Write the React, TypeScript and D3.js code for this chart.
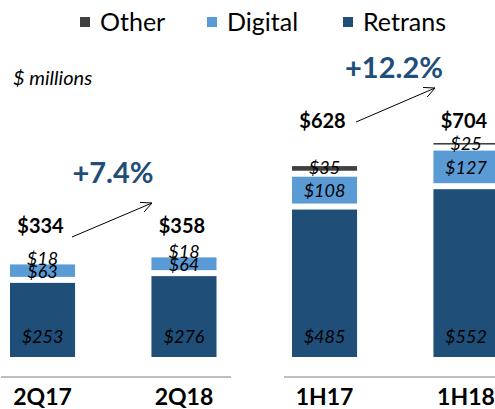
import React from 'react';
import * as d3 from 'd3';

// values in $ millions
const quarterCats = ['2Q17', '2Q18'];
const halfCats = ['1H17', '1H18'];
const retrans = [253, 276, 485, 552];
const digital = [63, 64, 108, 127];
const other = [18, 18, 35, 25];
const totals = [334, 358, 628, 704];
const growth = ['+7.4%', '+12.2%'];

const seriesNames = ['Retrans', 'Digital', 'Other'];
const seriesColors = ['#1f4e79', '#5b9bd5', '#404040'];
const legendOrder = ['Other', 'Digital', 'Retrans'];

const W = 495;
const H = 409;
const FONT = 'Lato, "Open Sans", sans-serif';
const BASE = 357;
const GAP = 6;

type Panel = {
  cats: string[];
  offset: number;
  range: [number, number];
  yMax: number;
  yTop: number;
  totalY: number;
  pct: { x: number; y: number };
  arrow: [number, number, number, number];
  axis: [number, number];
};

const panels: Panel[] = [
  {
    cats: quarterCats, offset: 0, range: [10, 216.5], yMax: 400, yTop: BASE - 0.293 * 400,
    totalY: 233, pct: { x: 113, y: 183 }, arrow: [72, 237, 152, 203], axis: [1, 231],
  },
  {
    cats: halfCats, offset: 2, range: [292, 498.5], yMax: 800, yTop: BASE - 0.304 * 800,
    totalY: 128, pct: { x: 394, y: 78 }, arrow: [356, 122, 435, 88], axis: [284, 495],
  },
];

const PanelView = ({ p, idx }: { p: Panel; idx: number }) => {
  const x = d3.scaleBand().domain(p.cats).range(p.range).paddingInner(0.54).paddingOuter(0);
  const y = d3.scaleLinear().domain([0, p.yMax]).range([BASE, p.yTop]);
  const bw = x.bandwidth();

  const [ax1, ay1, ax2, ay2] = p.arrow;
  const ang = Math.atan2(ay2 - ay1, ax2 - ax1);
  const hl = 12;
  const head = [ang - 0.45, ang + 0.45].map(a => [ax2 - hl * Math.cos(a), ay2 - hl * Math.sin(a)]);

  return (
    <g>
      <line x1={p.axis[0]} x2={p.axis[1]} y1={377} y2={377} stroke="#bfbfbf" strokeWidth={2} />
      {p.cats.map((c, ci) => {
        const i = p.offset + ci;
        const vals = [retrans[i], digital[i], other[i]];
        const cx = (x(c) as number) + bw / 2;
        let cum = 0;
        const segs = vals.map((v, si) => {
          const y0 = cum;
          const y1 = cum + v;
          cum = y1;
          const top = y(y1);
          const bottom = y(y0) - (si > 0 ? GAP : 0);
          return { v, si, top, bottom, nTop: y(y1), nBottom: y(y0) };
        });
        return (
          <g key={c}>
            {segs.map(s => (
              <rect key={s.si} x={x(c)} width={bw} y={s.top}
                height={Math.max(0, s.bottom - s.top)} fill={seriesColors[s.si]} />
            ))}
            {segs.map(s => {
              let ty;
              if (s.si === 0) ty = BASE - 14;
              else if (s.si === 1) ty = (s.top + s.bottom) / 2 + 7;
              else ty = (s.nTop + s.nBottom) / 2 + 3;
              return (
                <text key={'l' + s.si} x={cx} y={ty} textAnchor="middle" fontStyle="italic"
                  fontSize={18} fill="#000">{'$' + s.v}</text>
              );
            })}
            <text x={cx - 2} y={p.totalY} textAnchor="middle" fontWeight="bold" fontSize={20}
              fill="#000">{'$' + totals[i]}</text>
            <text x={cx} y={405} textAnchor="middle" fontWeight="bold" fontSize={23}
              fill="#000">{c}</text>
          </g>
        );
      })}
      <line x1={ax1} y1={ay1} x2={ax2} y2={ay2} stroke="#000" strokeWidth={1} />
      <polyline points={`${head[0][0]},${head[0][1]} ${ax2},${ay2} ${head[1][0]},${head[1][1]}`}
        fill="none" stroke="#000" strokeWidth={1} />
      <text x={p.pct.x} y={p.pct.y} textAnchor="middle" fontWeight="bold" fontSize={29}
        fill="#1f4e79">{growth[idx]}</text>
    </g>
  );
};

export default function App() {
  const legendX = [80, 207, 343];
  return (
    <svg width={W} height={H} style={{ position: 'absolute', left: 0, top: 0 }} fontFamily={FONT}>
      <rect width={W} height={H} fill="#fff" />
      {legendOrder.map((name, i) => (
        <g key={name}>
          <rect x={legendX[i]} y={17} width={10} height={10}
            fill={seriesColors[seriesNames.indexOf(name)]} />
          <text x={legendX[i] + 20} y={31} fontSize={25} fill="#000">{name}</text>
        </g>
      ))}
      <text x={13} y={85} fontStyle="italic" fontSize={20} fill="#000">$ millions</text>
      {panels.map((p, i) => <PanelView key={i} p={p} idx={i} />)}
    </svg>
  );
}
